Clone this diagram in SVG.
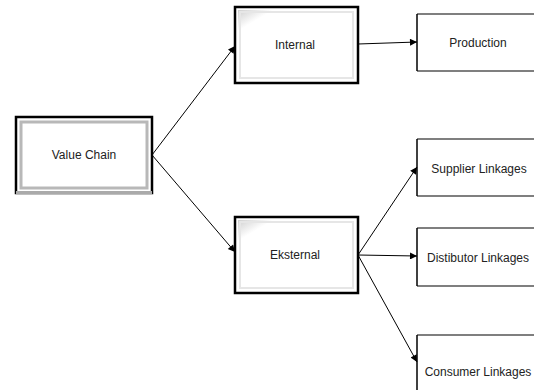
<svg xmlns="http://www.w3.org/2000/svg" width="534" height="390" viewBox="0 0 534 390">
<style>
text{font-family:"Liberation Sans",Arial,sans-serif;font-size:12px;fill:#222;text-anchor:middle;dominant-baseline:central}
.outer{fill:#fff;stroke:#000;stroke-width:2.5}
.bevel{fill:none;stroke:#d8d8d8;stroke-width:4}
.inner{fill:#fff;stroke:none}
.side{fill:none;stroke:#000;stroke-width:1.5}
.edge{fill:none;stroke:#555;stroke-width:1.5}
.conn{stroke:#000;stroke-width:1;fill:none;marker-end:url(#ah)}
</style>
<defs>
<marker id="ah" viewBox="0 0 10 10" refX="10" refY="5" markerWidth="9" markerHeight="7" markerUnits="userSpaceOnUse" orient="auto">
<path d="M0,0 L10,5 L0,10 z" fill="#000"/>
</marker>
<linearGradient id="g" x1="0" y1="0" x2="1" y2="1">
<stop offset="0" stop-color="#cfcfcf"/>
<stop offset="0.15" stop-color="#fff"/>
</linearGradient>
</defs>
<g id="value-chain">
<rect x="16" y="117" width="136" height="76" class="outer"/>
<rect x="21" y="122" width="126" height="66" fill="none" stroke="#b8b8b8" stroke-width="3"/>
<rect x="16" y="191" width="136" height="3" fill="#aaa"/>
<text x="84" y="155">Value Chain</text>
</g>
<g id="internal">
<rect x="235" y="7" width="123" height="76" class="outer"/>
<rect x="238" y="10" width="117" height="70" fill="url(#g)"/>
<rect x="240" y="12" width="113" height="66" fill="none" stroke="#e6e6e6" stroke-width="2"/>
<text x="295" y="45">Internal</text>
</g>
<g id="eksternal">
<rect x="235" y="217" width="123" height="76" class="outer"/>
<rect x="238" y="220" width="117" height="70" fill="url(#g)"/>
<rect x="240" y="222" width="113" height="66" fill="none" stroke="#e6e6e6" stroke-width="2"/>
<text x="295" y="255">Eksternal</text>
</g>
<g id="production">
<path d="M417,14 H534 M417,71 H534" class="edge"/>
<path d="M417,14 V71" class="side"/>
<text x="478" y="43">Production</text>
</g>
<g id="supplier">
<path d="M417,139 H534 M417,196 H534" class="edge"/>
<path d="M417,139 V196" class="side"/>
<text x="479" y="169">Supplier Linkages</text>
</g>
<g id="distributor">
<path d="M417,228 H534 M417,286 H534" class="edge"/>
<path d="M417,228 V286" class="side"/>
<text x="478" y="258">Distibutor Linkages</text>
</g>
<g id="consumer">
<path d="M417,335 H534" class="edge"/>
<path d="M417,335 V392" class="side"/>
<text x="478" y="372">Consumer Linkages</text>
</g>
<g id="connectors">
<line x1="152" y1="155" x2="235" y2="46" class="conn"/>
<line x1="152" y1="155" x2="235" y2="252" class="conn"/>
<line x1="358" y1="44" x2="417" y2="42" class="conn"/>
<line x1="358" y1="255" x2="417" y2="167" class="conn"/>
<line x1="358" y1="255" x2="417" y2="256" class="conn"/>
<line x1="358" y1="255" x2="417" y2="362" class="conn"/>
</g>
</svg>
